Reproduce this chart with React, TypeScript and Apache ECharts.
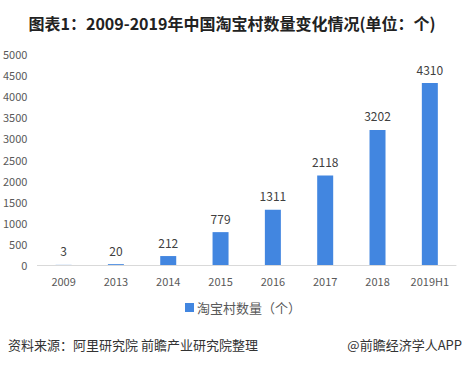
import React, { useEffect, useRef } from "react";
import * as echarts from "echarts";

const categories = ["2009", "2013", "2014", "2015", "2016", "2017", "2018", "2019H1"];
const values = [3, 20, 212, 779, 1311, 2118, 3202, 4310];
const seriesName = "淘宝村数量（个）";
const titleText = "图表1：2009-2019年中国淘宝村数量变化情况(单位：个)";
const sourceText = "资料来源：阿里研究院 前瞻产业研究院整理";
const brandText = "@前瞻经济学人APP";

export default function App() {
  const ref = useRef<HTMLDivElement>(null);
  useEffect(() => {
    if (!ref.current) return;
    const chart = echarts.init(ref.current, undefined, { renderer: "svg" });
    const font = "'Microsoft YaHei', 'Noto Sans CJK SC', sans-serif";
    chart.setOption({
      animation: false,
      backgroundColor: "#ffffff",
      title: {
        text: titleText,
        left: "center",
        top: 10,
        textStyle: { fontSize: 16, fontWeight: "bold", color: "#222222", fontFamily: font },
      },
      grid: { left: 36, right: 8, top: 54, bottom: 101 },
      legend: {
        data: [seriesName],
        bottom: 47,
        left: 180,
        itemWidth: 9,
        itemHeight: 9,
        itemGap: 4,
        icon: "rect",
        textStyle: { fontSize: 13, color: "#595959", fontFamily: font, padding: [0, 0, 0, -2] },
      },
      xAxis: {
        type: "category",
        data: categories,
        axisLine: { lineStyle: { color: "#d9d9d9" } },
        axisTick: { show: false },
        axisLabel: { color: "#595959", fontSize: 11, margin: 10, fontFamily: font },
      },
      yAxis: {
        type: "value",
        min: 0,
        max: 5000,
        interval: 500,
        splitLine: { show: false },
        axisLine: { show: false },
        axisTick: { show: false },
        axisLabel: {
          color: "#595959",
          fontSize: 11,
          margin: 10,
          fontFamily: font,
          formatter: (v: number) => String(v),
        },
      },
      series: [
        {
          name: seriesName,
          type: "bar",
          data: values,
          barWidth: 16,
          itemStyle: { color: "#4286e0" },
          label: {
            show: true,
            position: "top",
            distance: 8,
            color: "#404040",
            fontSize: 12,
            fontFamily: font,
          },
        },
      ],
      graphic: [
        {
          type: "text",
          left: 8,
          top: 338,
          style: { text: sourceText, fill: "#333333", font: `13px ${font}` },
        },
        {
          type: "text",
          right: 2,
          top: 338,
          style: { text: brandText, fill: "#333333", font: `13px ${font}` },
        },
      ],
    });
    return () => chart.dispose();
  }, []);
  return (
    <div
      ref={ref}
      style={{ position: "fixed", left: 0, top: 0, width: 464, height: 366 }}
    />
  );
}
